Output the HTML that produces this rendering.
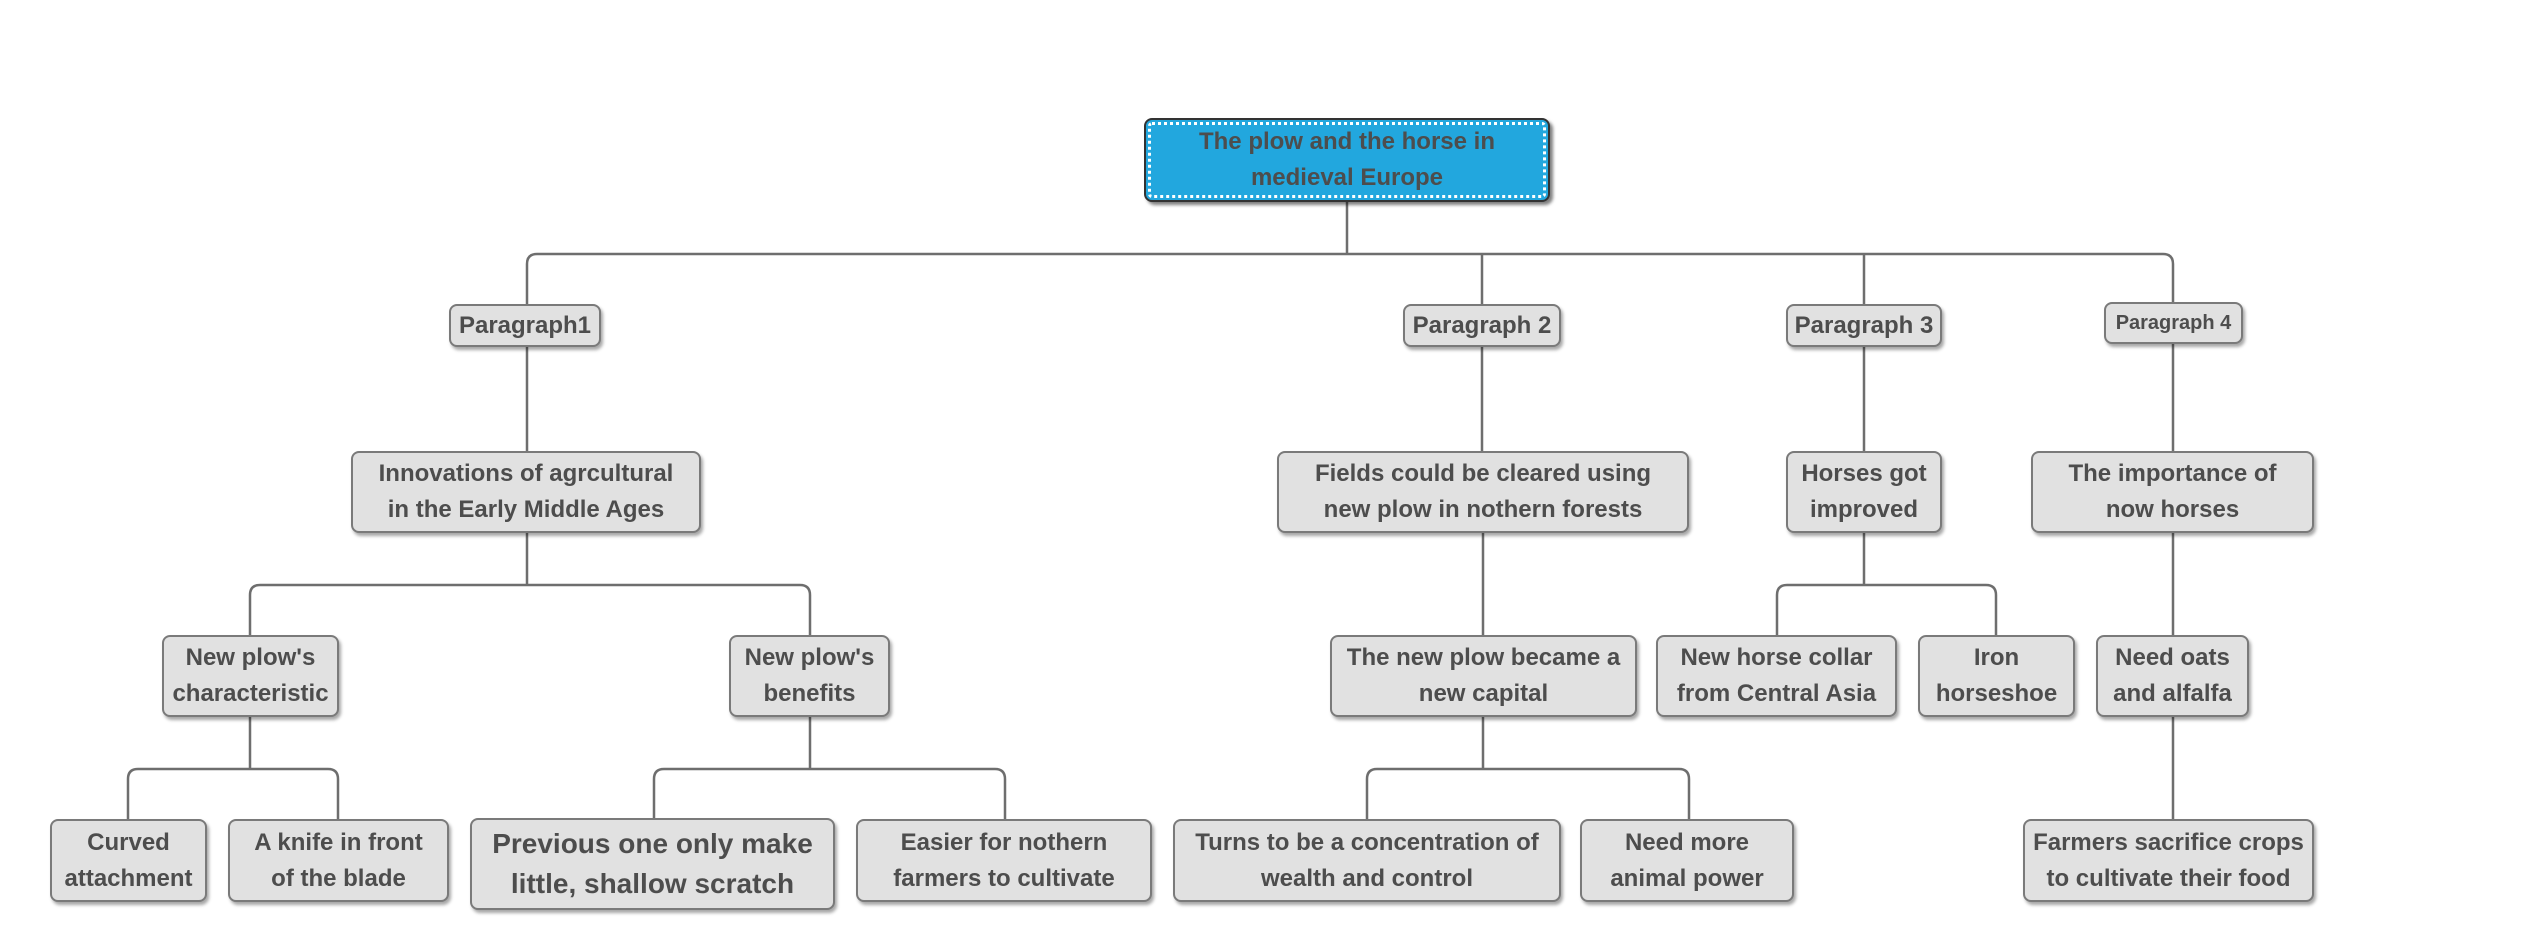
<!DOCTYPE html>
<html><head><meta charset="utf-8"><style>
body{margin:0;width:2534px;height:950px;background:#fff;position:relative;overflow:hidden;font-family:"Liberation Sans",sans-serif}
.b{position:absolute;box-sizing:border-box;background:#e1e1e1;border:2px solid #7a7a7a;border-radius:8px;box-shadow:2px 3px 3px rgba(0,0,0,.35);display:flex;align-items:center;justify-content:center;text-align:center;color:#4d4d4d;font-weight:bold;font-size:24px;line-height:36px}
.r{background:#22a7de;border:2px solid #333;outline:3px dotted #fff;outline-offset:-7px;box-shadow:3px 3px 3px rgba(0,0,0,.5)}
svg{position:absolute;left:0;top:0}
</style></head><body>
<svg width="2534" height="950" fill="none" stroke="#6e6e6e" stroke-width="2.5" stroke-linejoin="round">
<path d="M1347 202V254M527 304V264Q527 254 537 254H2163Q2173 254 2173 264V302M1482 254Q1482 262 1482 272V304M1864 254Q1864 262 1864 272V304"/>
<path d="M527 347V451M1482 347V451M1864 347V451M2173 344V451"/>
<path d="M527 533V585M250 635V595Q250 585 260 585H800Q810 585 810 595V635"/>
<path d="M250 717V769M128 819V779Q128 769 138 769H328Q338 769 338 779V819"/>
<path d="M810 717V769M654 818V779Q654 769 664 769H995Q1005 769 1005 779V819"/>
<path d="M1483 533V635M1483 717V769M1367 819V779Q1367 769 1377 769H1679Q1689 769 1689 779V819"/>
<path d="M1864 533V585M1777 635V595Q1777 585 1787 585H1986Q1996 585 1996 595V635"/>
<path d="M2173 533V635M2173 717V819"/>
</svg>
<div class="b r" style="left:1144px;top:118px;width:406px;height:84px">The plow and the horse in<br>medieval Europe</div>
<div class="b" style="left:449px;top:304px;width:152px;height:43px">Paragraph1</div>
<div class="b" style="left:1403px;top:304px;width:158px;height:43px">Paragraph 2</div>
<div class="b" style="left:1786px;top:304px;width:156px;height:43px">Paragraph 3</div>
<div class="b" style="left:2104px;top:302px;width:139px;height:42px;font-size:20px">Paragraph 4</div>
<div class="b" style="left:351px;top:451px;width:350px;height:82px">Innovations of agrcultural<br>in the Early Middle Ages</div>
<div class="b" style="left:1277px;top:451px;width:412px;height:82px">Fields could be cleared using<br>new plow in nothern forests</div>
<div class="b" style="left:1786px;top:451px;width:156px;height:82px">Horses got<br>improved</div>
<div class="b" style="left:2031px;top:451px;width:283px;height:82px">The importance of<br>now horses</div>
<div class="b" style="left:162px;top:635px;width:177px;height:82px">New plow's<br>characteristic</div>
<div class="b" style="left:729px;top:635px;width:161px;height:82px">New plow's<br>benefits</div>
<div class="b" style="left:1330px;top:635px;width:307px;height:82px">The new plow became a<br>new capital</div>
<div class="b" style="left:1656px;top:635px;width:241px;height:82px">New horse collar<br>from Central Asia</div>
<div class="b" style="left:1918px;top:635px;width:157px;height:82px">Iron<br>horseshoe</div>
<div class="b" style="left:2096px;top:635px;width:153px;height:82px">Need oats<br>and alfalfa</div>
<div class="b" style="left:50px;top:819px;width:157px;height:83px">Curved<br>attachment</div>
<div class="b" style="left:228px;top:819px;width:221px;height:83px">A knife in front<br>of the blade</div>
<div class="b" style="left:470px;top:818px;width:365px;height:92px;font-size:28px;line-height:40px">Previous one only make<br>little, shallow scratch</div>
<div class="b" style="left:856px;top:819px;width:296px;height:83px">Easier for nothern<br>farmers to cultivate</div>
<div class="b" style="left:1173px;top:819px;width:388px;height:83px">Turns to be a concentration of<br>wealth and control</div>
<div class="b" style="left:1580px;top:819px;width:214px;height:83px">Need more<br>animal power</div>
<div class="b" style="left:2023px;top:819px;width:291px;height:83px">Farmers sacrifice crops<br>to cultivate their food</div>
</body></html>
